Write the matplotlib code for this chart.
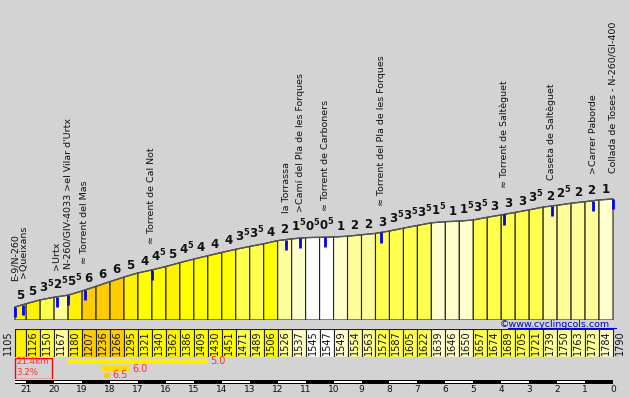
import matplotlib.pyplot as plt
from matplotlib.patches import Rectangle, Polygon
import numpy as np

# climb data (km to summit, elevation at segment boundaries)
total_km = 21.4
avg_grade = 3.2
km_bounds = [21.4] + [21.0 - 0.5 * i for i in range(43)]
elevations = [1105, 1126, 1150, 1167, 1180, 1207, 1236, 1266, 1295, 1321, 1340,
              1362, 1386, 1409, 1430, 1451, 1471, 1489, 1506, 1526, 1537, 1545,
              1547, 1549, 1554, 1563, 1572, 1587, 1605, 1622, 1639, 1646, 1650,
              1657, 1674, 1689, 1705, 1721, 1739, 1750, 1763, 1773, 1784, 1790]
grades = [5, 5, 3.5, 2.5, 5.5, 6, 6, 6, 5, 4, 4.5, 5, 4.5, 4, 4, 4, 3.5, 3.5, 4,
          2, 1.5, 0.5, 0.5, 1, 2, 2, 3, 3.5, 3.5, 3.5, 1.5, 1, 1.5, 3.5, 3, 3,
          3, 3.5, 2, 2.5, 2, 2, 1]

# points of interest
poi_km = [21.4, 21.1, 19.9, 19.5, 18.9, 16.5, 11.7, 11.2, 10.3, 8.3, 3.9, 2.2, 0.7, 0.0]
poi_names = ["E-9/N-260", ">Queixans", ">Urtx", "N-260/GIV-4033 >el Vilar d'Urtx",
             "≈ Torrent del Mas", "≈ Torrent de Cal Not", "la Torrassa",
             ">Camí del Pla de les Forques", "≈ Torrent de Carboners",
             "≈ Torrent del Pla de les Forques", "≈ Torrent de Saltèguet",
             "Caseta de Saltèguet", ">Carrer Paborde", "Collada de Toses - N-260/GI-400"]

# steepest sections: (from km, to km, grade)
steep_from = [19.5, 18.3, 18.2]
steep_to = [14.5, 17.3, 18.0]
steep_grade = [5.0, 6.0, 6.5]
steep_colors = ["#ffee00", "#ffdd00", "#ffcc00"]


def grade_color(g):
    if g >= 6:
        return "#ffcc00"
    if g >= 5:
        return "#fff200"
    if g >= 4:
        return "#ffff00"
    if g >= 3:
        return "#ffff4d"
    if g >= 2:
        return "#ffff99"
    if g >= 1:
        return "#ffffcc"
    return "#ffffff"


def grade_label(g):
    whole = int(g)
    if g - whole > 0.01:
        return r"$\mathbf{%d}^{\mathbf{5}}$" % whole
    return r"$\mathbf{%d}$" % whole


W, H = 629, 397
bg = "#d3d3d3"
fig = plt.figure(figsize=(W / 100, H / 100), dpi=100, facecolor=bg)
plt.rcParams['font.family'] = ['DejaVu Sans']
plt.rcParams['mathtext.fontset'] = 'dejavusans'

pxkm = 598 / 21.4
xl = (21.4 + 15 / pxkm, -16 / pxkm)


def add_ax(top, bottom):
    a = fig.add_axes([0, (H - bottom) / H, 1, (bottom - top) / H])
    a.set_xlim(*xl)
    a.axis("off")
    a.patch.set_alpha(0)
    return a


# profile
ax = add_ax(0, 320)
pxm = 108 / 685
ybot = 1105 - 13 / pxm
ax.set_ylim(ybot, 1105 + 307 / pxm)

for i in range(len(grades)):
    k0, k1 = km_bounds[i], km_bounds[i + 1]
    e0, e1 = elevations[i], elevations[i + 1]
    ax.add_patch(Polygon([(k0, ybot), (k0, e0), (k1, e1), (k1, ybot)],
                         closed=True, facecolor=grade_color(grades[i]),
                         edgecolor="#222222", lw=0.8))
    ax.annotate(grade_label(grades[i]), xy=((k0 + k1) / 2, (e0 + e1) / 2),
                xytext=(0, 2.5), textcoords="offset points", ha="center",
                va="bottom", fontsize=8.5, color="#111111")
ax.plot(km_bounds, elevations, color="#555555", lw=1)

km_asc = km_bounds[::-1]
el_asc = elevations[::-1]
for k, name in zip(poi_km, poi_names):
    e = np.interp(k, km_asc, el_asc)
    ax.vlines(k, e - 65, e, color="#0000ff", lw=2)
    ax.annotate(name, xy=(k, e), xytext=(0, 19), textcoords="offset points",
                rotation=90, ha="center", va="bottom", fontsize=6.8,
                color="#111111")

ax.text(0.1, ybot - 4.5 / pxm, "©www.cyclingcols.com", ha="right", va="center",
        fontsize=6.8, color="#0000cc", clip_on=False)
ax.plot([3.75, -0.1], [ybot - 8.3 / pxm] * 2, color="#0000cc", lw=0.8,
        clip_on=False)

# elevation boxes
axe = add_ax(329, 357)
axe.set_ylim(0, 1)
for i in range(len(grades)):
    k0, k1 = km_bounds[i], km_bounds[i + 1]
    axe.add_patch(Rectangle((k1, 0), k0 - k1, 1, facecolor=grade_color(grades[i]),
                            edgecolor="#222222", lw=0.8))
    if i > 0:
        axe.text((k0 + k1) / 2, 0.5, str(elevations[i]), rotation=90,
                 ha="center", va="center", fontsize=7, color="#111111")
axe.text(km_bounds[0] + 0.08, 0.5, str(elevations[0]), rotation=90, ha="right",
         va="center", fontsize=7, color="#111111")
axe.text(km_bounds[-1] - 0.08, 0.5, str(elevations[-1]), rotation=90, ha="left",
         va="center", fontsize=7, color="#111111")

# steepest sections
axg = add_ax(358, 379)
axg.set_ylim(2.5, -0.5)
for r, (a, b, g, c) in enumerate(zip(steep_from, steep_to, steep_grade, steep_colors)):
    axg.barh(r, a - b, left=b, height=0.85, color=c)
    axg.text(b - 0.1, r, f"{g:.1f}", ha="left", va="center", fontsize=7,
             color="#ff3030")
axg.add_patch(Rectangle((21.4 - 37 / pxkm, -0.5), 37 / pxkm, 3,
                        facecolor="none", edgecolor="#ff0000", lw=1))
axg.text(21.4 - 0.06, 0.05, f"{total_km}km", ha="left", va="center",
         fontsize=6.3, color="#ff3030")
axg.text(21.4 - 0.06, 1.55, f"{avg_grade}%", ha="left", va="center",
         fontsize=6.3, color="#ff3030")

# km scale
axk = add_ax(380, 384)
axk.set_ylim(0, 1)
axk.add_patch(Rectangle((0, 0), 21.4, 1, facecolor="black", edgecolor="none"))
white = [(21.4, 21.0)] + [(k, k - 1) for k in range(20, 0, -2)]
for a, b in white:
    axk.add_patch(Rectangle((b, 0.3), a - b, 0.45, facecolor="white",
                            edgecolor="none"))
for k in range(0, 22):
    axk.text(k, -1.45, str(k), ha="center", va="center", fontsize=6.5,
             color="#111111")

fig.savefig("out.png", dpi=100, facecolor=bg)
